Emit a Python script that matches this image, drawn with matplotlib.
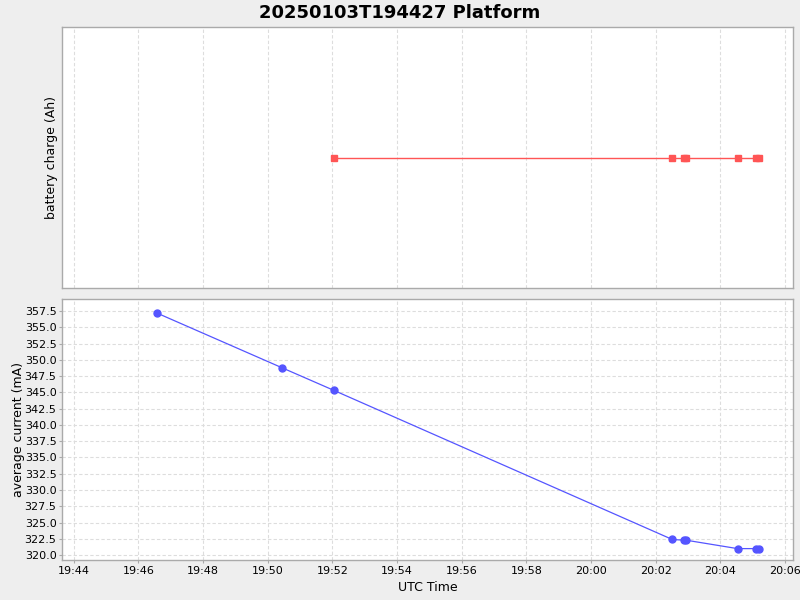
import matplotlib

matplotlib.use("Agg")
import matplotlib.pyplot as plt  # noqa: E402
import matplotlib.dates as mdates  # noqa: E402
import pandas as pd  # noqa: E402

# dados
current_times = [
    "19:46:34", "19:50:26", "19:52:03", "20:02:31", "20:02:52",
    "20:02:56", "20:04:32", "20:05:07", "20:05:11",
]
current_ma = [357.2, 348.8, 345.3, 322.4, 322.3, 322.3, 321.0, 321.0, 321.0]

charge_times = [
    "19:52:03", "20:02:31", "20:02:52", "20:02:56",
    "20:04:32", "20:05:07", "20:05:11",
]
charge_ah = [0.0, 0.0, 0.0, 0.0, 0.0, 0.0, 0.0]

day = "2025-01-03 "
t_cur = pd.to_datetime([day + t for t in current_times])
t_chg = pd.to_datetime([day + t for t in charge_times])
xlim = (pd.Timestamp(day + "19:43:38"), pd.Timestamp(day + "20:06:15"))

bg = "#eeeeee"
edge = "#aaaaaa"
grid_kw = dict(color="#dddddd", linestyle=(0, (3, 2)), linewidth=0.8)

fig = plt.figure(figsize=(8, 6), dpi=100, facecolor=bg)
ax1 = fig.add_axes([62 / 800, 1 - 288 / 600, 731 / 800, 261 / 600])
ax2 = fig.add_axes([62 / 800, 1 - 560 / 600, 731 / 800, 261 / 600], sharex=ax1)

fig.text(0.5, 1 - 13 / 600, "20250103T194427 Platform", ha="center", va="center",
         fontsize=13, fontweight="bold")

ax1.plot(t_chg, charge_ah, color="#ff5555", linewidth=1, marker="s", markersize=5)
ax1.set_ylim(-1, 1)
ax1.set_yticks([])
ax1.set_ylabel("battery charge (Ah)", fontsize=9, labelpad=3)
ax1.grid(True, axis="x", **grid_kw)

ax2.plot(t_cur, current_ma, color="#5555ff", linewidth=0.9, marker="o", markersize=5)
ax2.set_ylim(319.25, 359.35)
ax2.set_yticks([320.0 + 2.5 * i for i in range(16)])
ax2.yaxis.set_major_formatter(matplotlib.ticker.FormatStrFormatter("%.1f"))
ax2.set_ylabel("average current (mA)", fontsize=9, labelpad=0)
ax2.set_xlabel("UTC Time", fontsize=9, labelpad=4)
ax2.grid(True, **grid_kw)

ax2.set_xlim(xlim)
ax2.xaxis.set_major_locator(mdates.MinuteLocator(byminute=range(0, 60, 2)))
ax2.xaxis.set_major_formatter(mdates.DateFormatter("%H:%M"))

for ax in (ax1, ax2):
    ax.set_facecolor("white")
    ax.set_axisbelow(True)
    for s in ax.spines.values():
        s.set_color(edge)
        s.set_linewidth(1)
    ax.tick_params(labelsize=8, color=edge, length=2, pad=2)

ax1.tick_params(axis="x", which="both", length=0, labelbottom=False)

plt.savefig("out.png", dpi=100, facecolor=bg)
